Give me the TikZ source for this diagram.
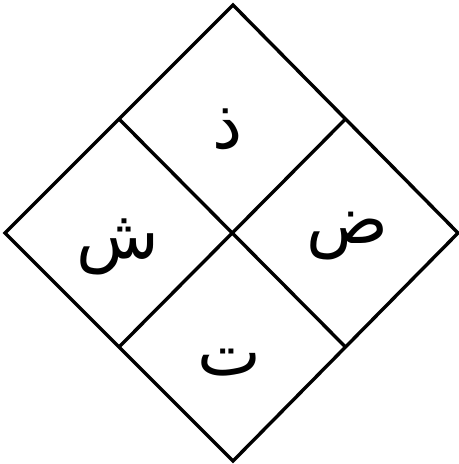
\documentclass[tikz,border=0pt]{standalone}
\usepackage{fontspec}
\usetikzlibrary{calc}
\TeXXeTstate=1
\newfontfamily\arabicfont[Script=Arabic]{DejaVu Sans}
\begin{document}
\begin{tikzpicture}[x=1bp,y=-1bp,
  edge/.style={line width=3.4bp,line join=miter},
  letter/.style={font=\arabicfont\fontsize{68}{70}\selectfont,inner sep=0pt}]
\useasboundingbox (0,0) rectangle (459,464);
\coordinate (T) at (233,5);
\coordinate (L) at (5,233);
\coordinate (B) at (233,461);
\coordinate (R) at (458,233);
\coordinate (TL) at ($(T)!0.5!(L)$);
\coordinate (TR) at ($(T)!0.5!(R)$);
\coordinate (BL) at ($(B)!0.5!(L)$);
\coordinate (BR) at ($(B)!0.5!(R)$);
\draw[edge] (T) -- (R) -- (B) -- (L) -- cycle;
\draw[edge] (TL) -- (BR);
\draw[edge] (TR) -- (BL);
\node[letter] (top) at (228,129) {\beginR ذ\endR};
\node[letter] (left) at (118,247) {\beginR ش\endR};
\node[letter] (right) at (347,236) {\beginR ض\endR};
\node[letter] (bottom) at (229,363) {\beginR ت\endR};
\end{tikzpicture}
\end{document}
